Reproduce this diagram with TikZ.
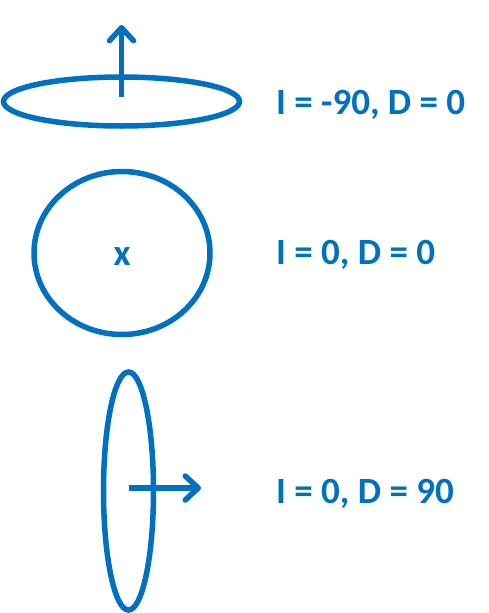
\documentclass[tikz,border=0pt]{standalone}
\usepackage{fontspec}
\setmainfont{Carlito}
\usetikzlibrary{arrows.meta, shapes.geometric}
\definecolor{dipcolor}{RGB}{0, 112, 192}

\begin{document}
\begin{tikzpicture}[x=1pt, y=-1pt,
    loop/.style={draw=dipcolor, line width=5.5pt, ellipse, inner sep=0pt},
    field/.style={draw=dipcolor, line width=5.5pt, -{Straight Barb[length=13pt, width=24pt, round]}},
    lbl/.style={text=dipcolor, font=\bfseries\fontsize{37}{40}\selectfont, inner sep=0pt}]
\useasboundingbox (0,0) rectangle (489,613);

% inclination -90
\node[loop, minimum width=236pt, minimum height=49pt] (flat) at (121.5,101.5) {};
\coordinate (upTip) at (121.5,25);
\draw[field] ([yshift=4.5pt]flat.center) -- (upTip);
\node[lbl, anchor=base west] (flatLabel) at (276,114) {I = -90, D = 0};

% facing the viewer
\node[loop, minimum width=176pt, minimum height=163pt] (round) at (122,253) {};
\node[lbl] (cross) at ([yshift=-3.5pt]round.center) {x};
\node[lbl, anchor=base west] (roundLabel) at (276,264) {I = 0, D = 0};

% declination 90
\node[loop, minimum width=50pt, minimum height=238pt] (edge) at (128.5,491) {};
\coordinate (eastTip) at (201,488);
\draw[field] ([yshift=3pt]edge.center) -- (eastTip);
\node[lbl, anchor=base west] (edgeLabel) at (276,503) {I = 0, D = 90};
\end{tikzpicture}
\end{document}
